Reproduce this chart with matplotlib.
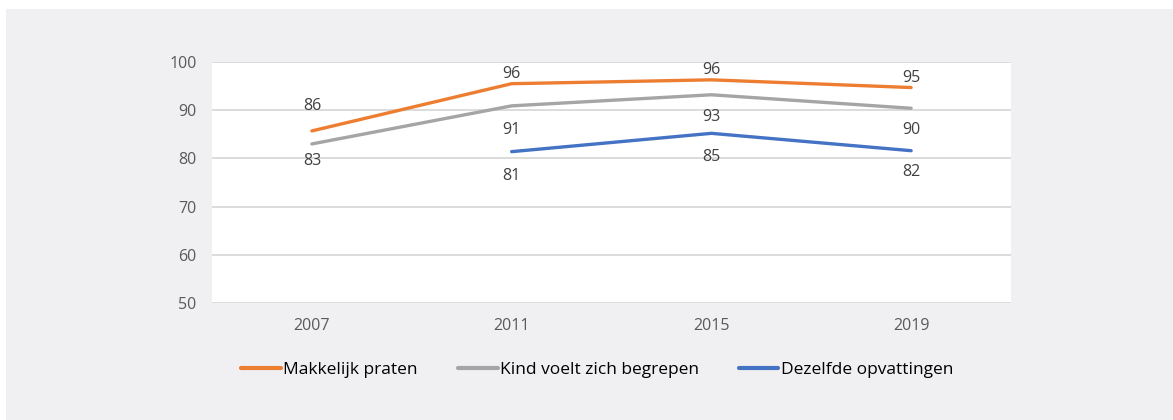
import matplotlib
matplotlib.use("Agg")
import matplotlib.pyplot as plt
from matplotlib.patches import Rectangle

years = ["2007", "2011", "2015", "2019"]
makkelijk = [85.7, 95.5, 96.3, 94.7]
makkelijk_lbl = ["86", "96", "96", "95"]
kind = [83.0, 90.9, 93.2, 90.4]
kind_lbl = ["83", "91", "93", "90"]
dezelfde = [None, 81.4, 85.2, 81.6]
dezelfde_lbl = [None, "81", "85", "82"]
series_names = ["Makkelijk praten", "Kind voelt zich begrepen", "Dezelfde opvattingen"]
yticks = [50, 60, 70, 80, 90, 100]

# label offsets in pixels (layout only)
off_makkelijk = [25, 10, 10, 10]
off_kind = [-17, -24, -22, -22]
off_dezelfde = [0, -24, -24, -21]

ORANGE = "#ED7D31"
GRAY = "#A5A5A5"
BLUE = "#4472C4"
TXT = "#595959"
LBL = "#404040"

plt.rcParams['font.family'] = ['Open Sans', 'DejaVu Sans']

fig = plt.figure(figsize=(11.73, 4.2), dpi=100)
fig.patch.set_facecolor("white")
fig.patches.append(Rectangle((6 / 1173, 0), 1 - 6 / 1173, 1 - 9 / 420,
                             transform=fig.transFigure, facecolor="#F0F0F2",
                             edgecolor="none", zorder=-10))

ax = fig.add_axes([212 / 1173, 117 / 420, 799 / 1173, 241 / 420])
ax.set_facecolor("white")
x = list(range(len(years)))

ax.plot(x, makkelijk, color=ORANGE, lw=2.4, solid_capstyle="round", label=series_names[0], zorder=3)
ax.plot(x, kind, color=GRAY, lw=2.4, solid_capstyle="round", label=series_names[1], zorder=3)
xb = [i for i, v in zip(x, dezelfde) if v is not None]
yb = [v for v in dezelfde if v is not None]
ax.plot(xb, yb, color=BLUE, lw=2.4, solid_capstyle="round", label=series_names[2], zorder=3)


def put_labels(vals, lbls, offs):
    for i, v, t, o in zip(x, vals, lbls, offs):
        if v is None:
            continue
        ax.annotate(t, (i, v), xytext=(0, o), textcoords="offset pixels",
                    ha="center", va="center", fontsize=11.5, color=LBL)


put_labels(makkelijk, makkelijk_lbl, off_makkelijk)
put_labels(kind, kind_lbl, off_kind)
put_labels(dezelfde, dezelfde_lbl, off_dezelfde)

ax.set_xlim(-0.5, len(years) - 0.5)
ax.set_ylim(50, 100)
ax.set_yticks(yticks)
ax.set_xticks(x)
ax.set_xticklabels(years)
ax.tick_params(axis="both", length=0, labelsize=11.5, colors=TXT)
ax.tick_params(axis="y", pad=11)
ax.tick_params(axis="x", pad=11)
ax.grid(axis="y", color="#D9D9D9", lw=1.3, zorder=0)
for s in ax.spines.values():
    s.set_visible(False)

leg = fig.legend(loc="center", bbox_to_anchor=(0.509, 0.119), ncol=3, frameon=False,
                 handlelength=2.3, handletextpad=0.12, columnspacing=2.3,
                 prop={'family': ['Open Sans', 'DejaVu Sans'], 'size': 12.5})
for line in leg.get_lines():
    line.set_linewidth(3)

fig.savefig("out.png", dpi=100)
